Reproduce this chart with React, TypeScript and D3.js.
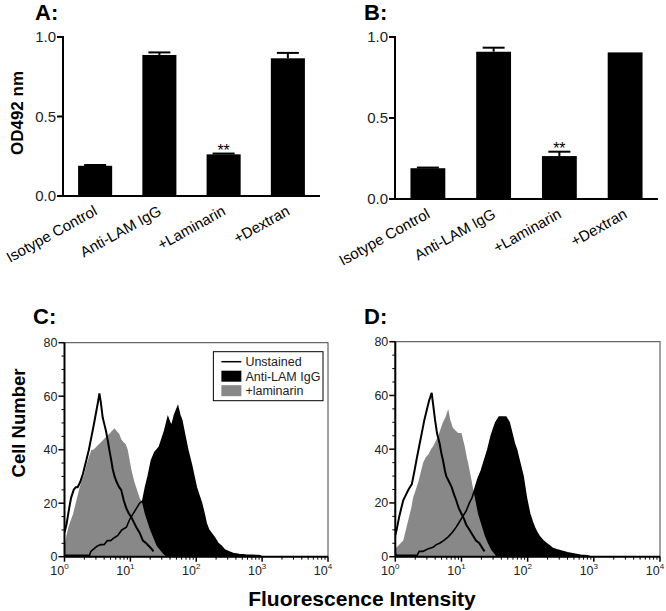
import React from "react";
import * as d3 from "d3";

const W = 666;
const H = 611;
const FONT = "'Liberation Sans', Arial, Helvetica, sans-serif";

// ELISA bars (panels A, B)
const categories = ["Isotype Control", "Anti-LAM IgG", "+Laminarin", "+Dextran"];
const odA = [0.19, 0.887, 0.262, 0.866];
const errA = [0.005, 0.016, 0.005, 0.034];
const odB = [0.19, 0.909, 0.265, 0.905];
const errB = [0.004, 0.025, 0.027, 0];
const sigMarks = ["", "", "**", ""];
const odTicks = [0, 0.5, 1.0];

// flow histograms (panels C, D): [log10 intensity, cell count]
const unstainedC: [number, number][] = [
  [0.0, 9], [0.03, 12], [0.07, 18], [0.1, 22], [0.14, 25], [0.17, 26], [0.2, 26], [0.24, 28],
  [0.28, 31], [0.33, 36], [0.37, 40], [0.41, 45], [0.45, 50], [0.48, 54], [0.51, 58], [0.53, 61],
  [0.55, 58], [0.58, 52], [0.61, 49], [0.63, 47], [0.66, 43], [0.68, 40], [0.71, 36], [0.73, 33],
  [0.76, 30], [0.79, 28], [0.83, 26], [0.86, 25], [0.9, 21], [0.94, 18], [0.98, 16], [1.01, 15],
  [1.05, 13], [1.09, 11], [1.14, 9], [1.19, 6], [1.24, 5], [1.28, 4], [1.32, 3], [1.35, 2],
];
const laminarinC: [number, number][] = [
  [0.0, 4], [0.03, 8], [0.06, 11], [0.1, 14], [0.13, 16], [0.17, 20], [0.2, 23], [0.23, 26],
  [0.27, 29], [0.3, 31], [0.34, 35], [0.38, 38], [0.41, 40], [0.44, 40], [0.48, 41], [0.52, 42],
  [0.56, 43], [0.6, 44], [0.64, 45], [0.68, 46], [0.72, 47], [0.76, 48], [0.79, 47], [0.83, 46],
  [0.86, 44], [0.89, 43], [0.93, 42], [0.96, 40], [0.99, 36], [1.02, 32], [1.06, 28], [1.1, 25],
  [1.14, 22], [1.18, 20], [1.22, 16], [1.26, 13], [1.3, 10], [1.35, 7], [1.4, 4], [1.45, 2.5],
  [1.5, 1], [1.55, 0],
];
const antiLamC: [number, number][] = [
  [0.0, 0.5], [0.38, 0.5], [0.4, 2], [0.45, 3], [0.5, 4], [0.55, 4.5], [0.6, 4.5], [0.65, 6],
  [0.7, 6], [0.75, 7], [0.81, 8], [0.87, 10], [0.94, 11], [0.99, 14], [1.04, 16], [1.09, 18],
  [1.14, 20], [1.19, 21], [1.23, 26], [1.27, 30], [1.32, 36], [1.37, 39], [1.44, 41], [1.48, 44],
  [1.52, 47], [1.57, 52], [1.6, 50], [1.63, 49], [1.67, 53], [1.72, 56], [1.75, 53], [1.78, 51],
  [1.82, 46], [1.87, 40], [1.93, 34], [2.0, 26], [2.04, 23], [2.08, 20], [2.12, 16], [2.15, 12.5],
  [2.19, 10], [2.23, 8.7], [2.28, 7], [2.33, 5], [2.38, 4], [2.43, 2.5], [2.5, 1.8], [2.56, 1.2],
  [2.65, 0.8], [2.75, 0.6], [2.85, 0.5], [2.95, 0.4], [3.0, 0],
];
const unstainedD: [number, number][] = [
  [0.0, 8], [0.02, 10], [0.06, 15], [0.09, 18], [0.12, 21], [0.16, 23], [0.2, 25], [0.25, 27],
  [0.29, 32], [0.32, 36], [0.36, 41], [0.4, 46], [0.44, 51], [0.47, 54], [0.51, 58], [0.55, 61],
  [0.57, 57], [0.6, 51], [0.63, 46], [0.67, 42], [0.7, 38], [0.72, 36], [0.75, 32], [0.77, 30],
  [0.81, 28], [0.85, 26], [0.89, 23], [0.92, 21], [0.96, 18], [1.0, 16], [1.04, 14], [1.07, 12],
  [1.12, 10], [1.17, 8], [1.22, 6], [1.27, 5], [1.32, 3], [1.35, 2],
];
const laminarinD: [number, number][] = [
  [0.0, 3], [0.04, 4], [0.08, 5], [0.12, 6], [0.16, 10], [0.2, 14], [0.24, 18], [0.27, 22],
  [0.31, 25], [0.35, 28], [0.39, 32], [0.42, 35], [0.46, 37], [0.5, 38], [0.54, 40], [0.57, 41],
  [0.61, 43], [0.65, 45], [0.69, 48], [0.72, 50], [0.76, 52], [0.8, 55], [0.83, 51], [0.87, 48],
  [0.91, 47], [0.95, 46], [1.0, 46], [1.03, 43], [1.05, 41], [1.08, 37], [1.1, 35], [1.14, 30],
  [1.17, 26], [1.21, 21], [1.25, 16], [1.3, 12], [1.35, 8], [1.4, 5], [1.45, 2.5], [1.5, 1],
  [1.53, 0],
];
const antiLamD: [number, number][] = [
  [0.0, 1], [0.03, 0.5], [0.33, 0.5], [0.36, 2], [0.42, 2], [0.5, 3], [0.57, 3.5], [0.62, 4.5],
  [0.67, 5], [0.73, 6], [0.8, 7.4], [0.86, 9], [0.92, 11], [0.97, 13], [1.02, 15], [1.07, 17],
  [1.12, 20], [1.16, 22], [1.2, 25], [1.25, 29], [1.3, 32], [1.35, 36], [1.4, 40], [1.45, 45],
  [1.49, 48], [1.52, 50], [1.57, 52], [1.62, 52], [1.67, 52], [1.72, 50], [1.77, 45], [1.8, 42],
  [1.83, 40], [1.88, 35], [1.93, 30], [1.98, 22], [2.03, 16], [2.07, 13], [2.1, 11], [2.14, 9],
  [2.18, 7.4], [2.23, 6], [2.28, 5], [2.33, 4], [2.38, 3], [2.45, 2.5], [2.52, 2], [2.6, 1.5],
  [2.7, 1], [2.8, 0.5], [2.9, 0.3], [2.95, 0],
];
const countTicks = [0, 20, 40, 60, 80];
const decades = [0, 1, 2, 3, 4];
const legendItems = ["Unstained", "Anti-LAM IgG", "+laminarin"];

interface BarProps {
  label: string;
  labelX: number;
  x0: number;
  x1: number;
  top: number;
  bottom: number;
  values: number[];
  errors: number[];
}

function BarPanel({ label, labelX, x0, x1, top, bottom, values, errors }: BarProps) {
  const x = d3.scaleBand<string>().domain(categories).range([x0, x1]).paddingInner(0.47).paddingOuter(0.235);
  const y = d3.scaleLinear().domain([0, 1]).range([bottom, top]);
  const bw = x.bandwidth();
  return (
    <g>
      <text x={labelX} y={20} fontSize={22} fontWeight="bold">{label}</text>
      {categories.map((c, i) => {
        const cx = (x(c) as number) + bw / 2;
        const yTop = y(values[i]);
        const yErr = y(values[i] + errors[i]);
        return (
          <g key={c}>
            <rect x={x(c)} y={yTop} width={bw} height={bottom - yTop} fill="#000" />
            {errors[i] > 0 && (
              <g stroke="#000" strokeWidth={2}>
                <line x1={cx} x2={cx} y1={yTop} y2={yErr} />
                <line x1={cx - 11} x2={cx + 11} y1={yErr} y2={yErr} />
              </g>
            )}
            {sigMarks[i] && (
              <text x={cx} y={yErr + 2} textAnchor="middle" fontSize={16}>{sigMarks[i]}</text>
            )}
            <text
              transform={`translate(${cx + 3},${bottom + 18}) rotate(-29)`}
              textAnchor="end"
              fontSize={15}
            >
              {c}
            </text>
          </g>
        );
      })}
      <line x1={x0} x2={x0} y1={top - 1} y2={bottom} stroke="#000" strokeWidth={2} />
      <line x1={x0 - 1} x2={x1} y1={bottom} y2={bottom} stroke="#000" strokeWidth={2} />
      {odTicks.map((t) => (
        <g key={t}>
          <line x1={x0 - 6} x2={x0} y1={y(t)} y2={y(t)} stroke="#000" strokeWidth={2} />
          <text x={x0 - 7} y={y(t)} dy="0.36em" textAnchor="end" fontSize={15} fill="#222">
            {t.toFixed(1)}
          </text>
        </g>
      ))}
    </g>
  );
}

interface HistProps {
  label: string;
  labelX: number;
  left: number;
  right: number;
  top: number;
  bottom: number;
  unstained: [number, number][];
  antiLam: [number, number][];
  laminarin: [number, number][];
  legend?: boolean;
  id: string;
}

function HistPanel({ label, labelX, left, right, top, bottom, unstained, antiLam, laminarin, legend, id }: HistProps) {
  const x = d3.scaleLog().domain([1, 1e4]).range([left, right]);
  const y = d3.scaleLinear().domain([0, 80]).range([bottom, top]);
  const area = d3
    .area<[number, number]>()
    .x((d) => x(Math.pow(10, d[0])))
    .y0(y(0))
    .y1((d) => y(d[1]));
  const line = d3
    .line<[number, number]>()
    .x((d) => x(Math.pow(10, d[0])))
    .y((d) => y(d[1]));
  const minorY = d3.range(0, 81, 5).filter((v) => v % 20 !== 0);
  const minorX: number[] = [];
  decades.slice(0, -1).forEach((d) => {
    for (let k = 2; k < 10; k++) minorX.push(k * Math.pow(10, d));
  });
  const lx = left + (right - left) * 0.565;
  const ly = top + 9;
  return (
    <g>
      <text x={labelX} y={324} fontSize={22} fontWeight="bold">{label}</text>
      <defs>
        <clipPath id={id}>
          <rect x={left} y={top} width={right - left} height={bottom - top} />
        </clipPath>
      </defs>
      <g clipPath={`url(#${id})`}>
        <path d={area(antiLam) as string} fill="#000" />
        <path d={area(laminarin) as string} fill="#888" />
        <path d={line(antiLam) as string} fill="none" stroke="#000" strokeWidth={1.6} />
        <path d={line(unstained) as string} fill="none" stroke="#000" strokeWidth={2} />
      </g>
      <rect x={left} y={top} width={right - left} height={bottom - top} fill="none" stroke="#444" strokeWidth={1} />
      <line x1={left} x2={left} y1={top} y2={bottom} stroke="#000" strokeWidth={2} />
      <line x1={left} x2={right} y1={bottom} y2={bottom} stroke="#000" strokeWidth={2} />
      {countTicks.map((t) => (
        <g key={t}>
          <line x1={left - 6} x2={left} y1={y(t)} y2={y(t)} stroke="#000" strokeWidth={1.5} />
          <text x={left - 7} y={y(t)} dy="0.36em" textAnchor="end" fontSize={12.5} fill="#222">{t}</text>
        </g>
      ))}
      {minorY.map((t) => (
        <line key={t} x1={left - 3} x2={left} y1={y(t)} y2={y(t)} stroke="#000" strokeWidth={1} />
      ))}
      {decades.map((d) => (
        <g key={d}>
          <line x1={x(Math.pow(10, d))} x2={x(Math.pow(10, d))} y1={bottom} y2={bottom + 5} stroke="#000" strokeWidth={1.5} />
          <text x={x(Math.pow(10, d)) - 5} y={bottom + 18} textAnchor="middle" fontSize={12.5} fill="#222">
            10<tspan dy={-6} fontSize={8}>{d}</tspan>
          </text>
        </g>
      ))}
      {minorX.map((v) => (
        <line key={v} x1={x(v)} x2={x(v)} y1={bottom} y2={bottom + 3} stroke="#000" strokeWidth={1} />
      ))}
      {legend && (
        <g>
          <rect x={lx} y={ly} width={right - 5 - lx} height={49} fill="#fff" stroke="#000" strokeWidth={1} />
          {legendItems.map((name, i) => {
            const cy = ly + 10 + i * 14.5;
            return (
              <g key={name}>
                {i === 0 ? (
                  <line x1={lx + 8} x2={lx + 28} y1={cy} y2={cy} stroke="#000" strokeWidth={1.5} />
                ) : (
                  <rect x={lx + 8} y={cy - 5.5} width={20} height={11} fill={i === 1 ? "#000" : "#888"} />
                )}
                <text x={lx + 32} y={cy} dy="0.36em" fontSize={12.5} fill="#222">{name}</text>
              </g>
            );
          })}
        </g>
      )}
    </g>
  );
}

export default function App() {
  return (
    <svg
      width={W}
      height={H}
      style={{ position: "absolute", left: 0, top: 0, background: "#fff" }}
      fontFamily={FONT}
    >
      <rect width={W} height={H} fill="#fff" />
      <BarPanel label="A:" labelX={35} x0={63} x1={320} top={37} bottom={196} values={odA} errors={errA} />
      <BarPanel label="B:" labelX={364} x0={395} x1={658} top={37} bottom={199} values={odB} errors={errB} />
      <text transform="translate(23,113) rotate(-90)" textAnchor="middle" fontSize={17} fontWeight="bold">
        OD492 nm
      </text>
      <HistPanel
        id="clipC"
        label="C:"
        labelX={33}
        left={64.5}
        right={328}
        top={342.7}
        bottom={556.7}
        unstained={unstainedC}
        antiLam={antiLamC}
        laminarin={laminarinC}
        legend
      />
      <HistPanel
        id="clipD"
        label="D:"
        labelX={364}
        left={395.3}
        right={660}
        top={341.7}
        bottom={556.7}
        unstained={unstainedD}
        antiLam={antiLamD}
        laminarin={laminarinD}
      />
      <text transform="translate(25,423) rotate(-90)" textAnchor="middle" fontSize={18.5} fontWeight="bold">
        Cell Number
      </text>
      <text x={362} y={606} textAnchor="middle" fontSize={21} fontWeight="bold">
        Fluorescence Intensity
      </text>
    </svg>
  );
}
